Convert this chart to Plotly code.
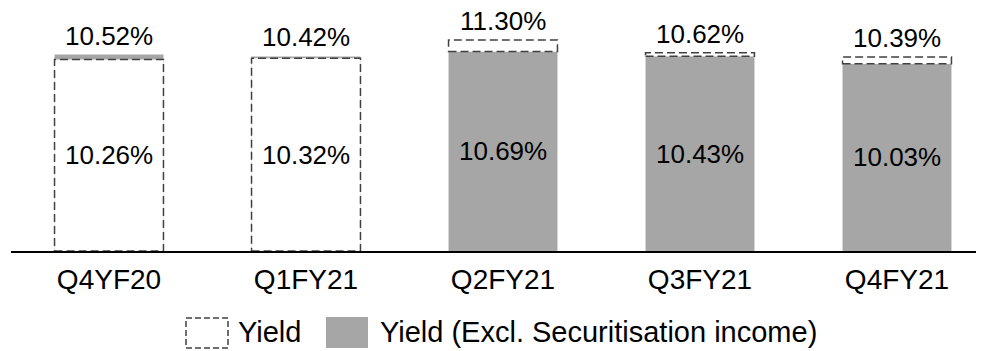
import plotly.graph_objects as go

quarters = ['Q4YF20', 'Q1FY21', 'Q2FY21', 'Q3FY21', 'Q4FY21']
yield_all = [10.26, 10.32, 11.30, 10.62, 10.39]
yield_excl = [10.52, 10.42, 10.69, 10.43, 10.03]

grey = '#A6A6A6'
dash_col = '#404040'
font = 'Liberation Sans, Arial, sans-serif'
bar_w = 0.553
x = list(range(len(quarters)))

# page body has an 8px margin, so the figure is 8px smaller each way
W, H = 976, 343
plot_h = 243  # axis line 251px from top of page
px_per_unit = 18.67


def py(page_y):
    # page pixel y -> paper coordinate
    return (251 - page_y) / plot_h


def px(page_x):
    return (page_x - 11) / 973


fig = go.Figure()

# grey bars: Yield excl. securitisation income
fig.add_trace(go.Bar(x=x, y=yield_excl, width=bar_w, marker=dict(color=grey, line=dict(width=0)),
                     showlegend=False, hoverinfo='skip'))

# dashed Yield pieces (white fill), below or on top of the grey bar
for i, (y1, y2) in enumerate(zip(yield_all, yield_excl)):
    base = 0 if y1 < y2 else y2
    fig.add_shape(type='rect', xref='x', yref='y', x0=i - bar_w / 2, x1=i + bar_w / 2, y0=base, y1=y1,
                  fillcolor='white', line=dict(color=dash_col, width=1.5, dash='8px,4px'), layer='above')
    top = max(y1, y2)
    low = min(y1, y2)
    fig.add_annotation(x=i, y=top, text=f'{top:.2f}%', showarrow=False, yanchor='middle', yshift=19,
                       font=dict(size=26, color='black', family=font))
    fig.add_annotation(x=i, y=low / 2, text=f'{low:.2f}%', showarrow=False, yanchor='middle',
                       font=dict(size=26, color='black', family=font))

# manual legend
fig.add_shape(type='rect', xref='paper', yref='paper', x0=px(186), x1=px(228), y0=py(348), y1=py(318),
              fillcolor='white', line=dict(color=dash_col, width=1.5, dash='6px,3px'))
fig.add_annotation(xref='paper', yref='paper', x=px(236), y=py(332), text='Yield',
                   showarrow=False, xanchor='left', yanchor='middle', font=dict(size=29, color='black', family=font))
fig.add_shape(type='rect', xref='paper', yref='paper', x0=px(326), x1=px(368), y0=py(348), y1=py(317),
              fillcolor=grey, line=dict(width=0))
fig.add_annotation(xref='paper', yref='paper', x=px(378), y=py(332),
                   text='Yield (Excl. Securitisation income)', showarrow=False, xanchor='left', yanchor='middle',
                   font=dict(size=29, color='black', family=font))

fig.update_layout(
    width=W, height=H,
    margin=dict(l=3, r=0, t=0, b=H - plot_h),
    paper_bgcolor='white', plot_bgcolor='white',
    showlegend=False,
    font=dict(family=font, size=26, color='black'),
    xaxis=dict(range=[-98 / 197, 875 / 197], tickvals=x, ticktext=quarters, showline=True,
               linecolor='black', linewidth=2, showgrid=False, zeroline=False, ticks='',
               tickfont=dict(size=28, color='black'), ticklabelstandoff=2),
    yaxis=dict(range=[0, plot_h / px_per_unit], visible=False, showgrid=False, zeroline=False),
)

fig.write_html('out.html')
